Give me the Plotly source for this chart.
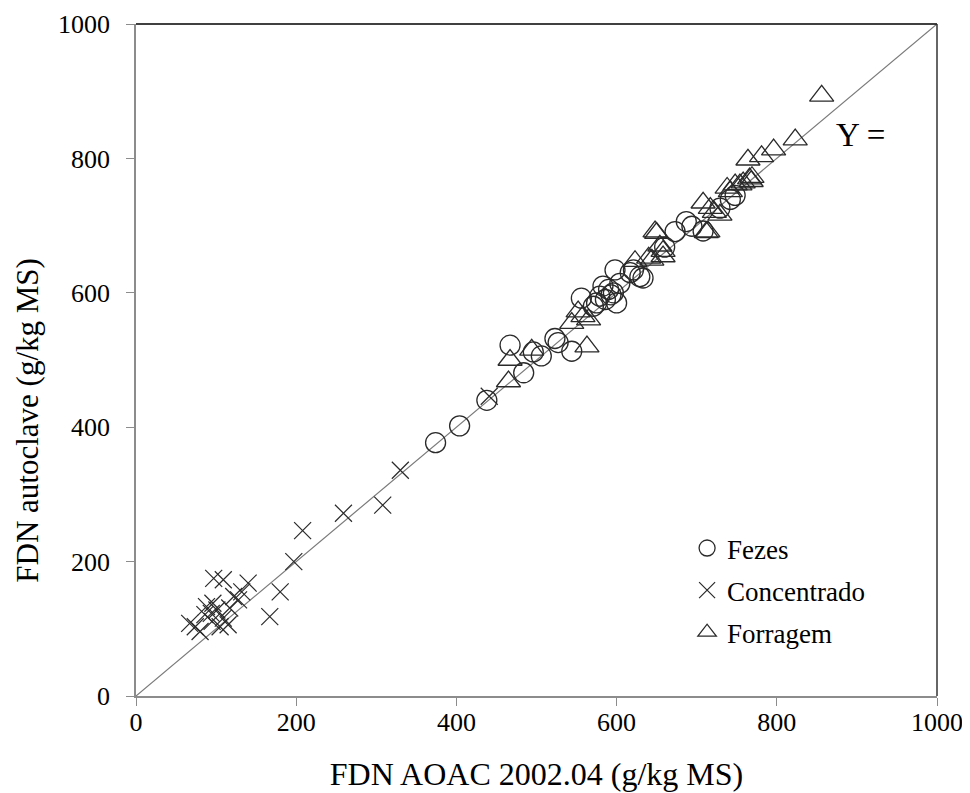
import plotly.graph_objects as go

# ---- data ----
fezes_x = [374, 404, 438, 467, 484, 496, 506, 523, 527, 544, 556, 571, 575, 579, 583,
           590, 596, 598, 600, 604, 593, 586, 621, 629, 617, 633, 660, 673, 687, 694,
           708, 729, 742, 748]
fezes_y = [377, 402, 440, 522, 481, 512, 506, 532, 526, 513, 592, 580, 585, 595, 610,
           605, 600, 634, 585, 614, 597, 590, 634, 624, 630, 622, 668, 691, 706, 699,
           692, 726, 739, 745]

conc_x = [67, 74, 80, 86, 88, 94, 95, 96, 97, 101, 105, 109, 109, 115, 117, 122, 128,
          132, 140, 167, 180, 197, 208, 259, 308, 330, 441]
conc_y = [108, 103, 96, 121, 133, 123, 111, 138, 175, 128, 103, 116, 173, 106, 131,
          148, 143, 155, 168, 118, 155, 200, 246, 272, 284, 336, 446]

forr_x = [465, 467, 494, 544, 552, 558, 563, 565, 623, 640, 644, 648, 650, 654, 658,
          658, 708, 712, 714, 717, 722, 729, 738, 742, 748, 754, 758, 766, 768, 769,
          764, 781, 796, 823, 856]
forr_y = [468, 500, 515, 555, 572, 565, 520, 560, 647, 652, 649, 691, 689, 670, 662,
          654, 734, 690, 691, 726, 720, 716, 756, 751, 761, 761, 764, 770, 766, 772,
          798, 803, 813, 828, 893]

line_x = [0, 1000]
line_y = [0, 1000]

tick_vals = [0, 200, 400, 600, 800, 1000]

FONT = "Liberation Serif"
MK = "#2a2a2a"

fig = go.Figure()

fig.add_trace(go.Scatter(x=line_x, y=line_y, mode="lines",
                         line=dict(color="#7a7a7a", width=1.2),
                         showlegend=False, hoverinfo="skip"))

fig.add_trace(go.Scatter(x=fezes_x, y=fezes_y, mode="markers", name="Fezes",
                         legendgroup="a",
                         marker=dict(symbol="circle-open", size=20,
                                     color=MK, line=dict(width=1.3, color=MK))))
fig.add_trace(go.Scatter(x=conc_x, y=conc_y, mode="markers", name="Concentrado",
                         legendgroup="b",
                         marker=dict(symbol="x-thin-open", size=17,
                                     color=MK, line=dict(width=1.2, color=MK))))
fig.add_trace(go.Scatter(x=forr_x, y=forr_y, mode="markers", name="Forragem",
                         legendgroup="c",
                         marker=dict(symbol="triangle-up-open", size=21,
                                     color=MK, line=dict(width=1.3, color=MK))))

axis_common = dict(
    range=[0, 1000], tickvals=tick_vals, ticks="outside", ticklen=8,
    tickcolor="#8c8c8c", showline=True, linecolor="#8c8c8c", linewidth=1.5,
    showgrid=False, zeroline=False, automargin=False,
    tickfont=dict(family=FONT, size=26, color="black"),
)

fig.update_xaxes(**axis_common, ticklabelstandoff=-6,
                 title=dict(text="FDN AOAC 2002.04 (g/kg MS)",
                            font=dict(family=FONT, size=32, color="black"),
                            standoff=27))
fig.update_yaxes(**axis_common, ticklabelstandoff=11)

# y-axis title (placed slightly below centre, as in the reference)
fig.add_annotation(xref="paper", yref="paper", x=-0.135, y=0.411,
                   text="FDN autoclave (g/kg MS)", textangle=-90, showarrow=False,
                   xanchor="center", yanchor="middle",
                   font=dict(family=FONT, size=31, color="black"))

# top and right frame lines
fig.add_shape(type="line", xref="paper", yref="paper", x0=0, x1=1, y0=1, y1=1,
              line=dict(color="black", width=1.5))
fig.add_shape(type="line", xref="paper", yref="paper", x0=1, x1=1, y0=0, y1=1,
              line=dict(color="#333333", width=1.5))

fig.add_annotation(x=905, y=835, text="Y =", showarrow=False,
                   font=dict(family=FONT, size=33, color="black"))

fig.update_layout(
    width=962, height=785,
    margin=dict(l=128, r=33, t=16, b=97),
    paper_bgcolor="white", plot_bgcolor="white",
    legend=dict(x=0.688, y=0.256, xanchor="left", yanchor="top",
                font=dict(family=FONT, size=27, color="black"),
                bgcolor="rgba(0,0,0,0)", tracegroupgap=4,
                traceorder="grouped", itemwidth=30),
)

fig.write_html("out.html")
